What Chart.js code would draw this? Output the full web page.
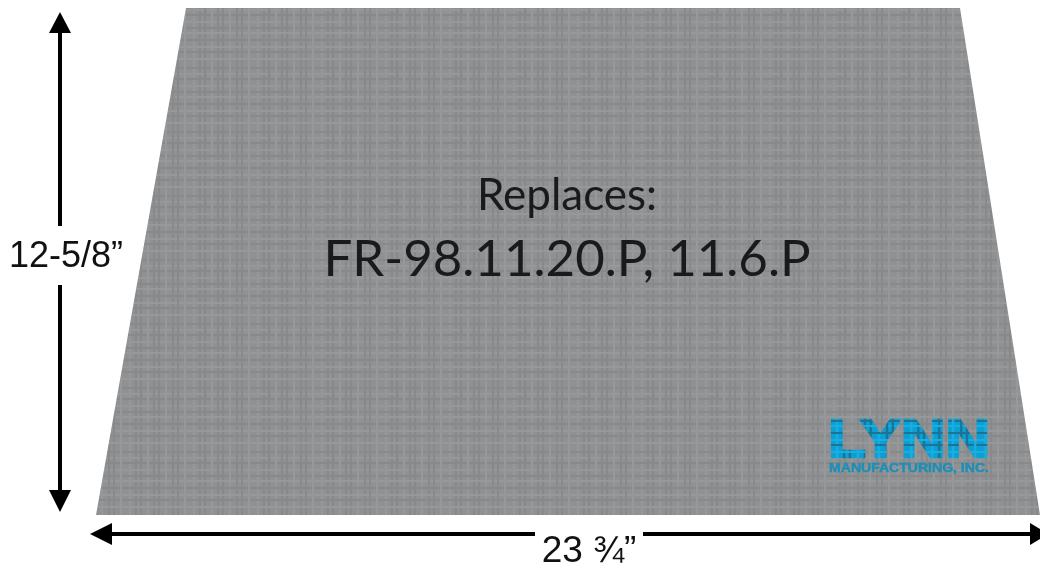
<!DOCTYPE html>
<html>
<head>
<meta charset="utf-8">
<title>Baffle board</title>
<script src="https://cdn.jsdelivr.net/npm/chart.js@4/dist/chart.umd.min.js"></script>
<style>
html, body { margin: 0; padding: 0; background: #fff; }
canvas { display: block; }
</style>
</head>
<body>
<canvas id="myChart" width="1040" height="566"></canvas>
<script>
// outline of the board, in picture units
var boardX = [96, 186, 960, 1040];
var boardY = [515, 8, 8, 515];

// dimension arrows
var heightLineTopX = [60, 60];
var heightLineTopY = [33, 226];
var heightLineBottomX = [60, 60];
var heightLineBottomY = [285, 490];
var widthLineLeftX = [112, 535];
var widthLineLeftY = [534, 534];
var widthLineRightX = [643, 1030];
var widthLineRightY = [534, 534];

var headUpX = [49, 60, 71];
var headUpY = [33, 12, 33];
var headDownX = [49, 60, 71];
var headDownY = [490, 512, 490];
// the side heads are two halves, each filled against the arrow's centre line
var headLeftX = [90, 112];
var headLeftUpperY = [534, 523];
var headLeftLowerY = [534, 545];
var headRightX = [1030, 1048];
var headRightUpperY = [523, 534];
var headRightLowerY = [545, 534];

var heightLabel = '12-5/8\u201d';
var widthLabel = '23 \u00be\u201d';
var replacesTitle = 'Replaces:';
var replacesParts = 'FR-98.11.20.P, 11.6.P';
var logoName = 'LYNN';
var logoSub = 'MANUFACTURING, INC.';

function points(xs, ys) {
    return xs.map(function (x, i) { return { x: x, y: ys[i] }; });
}

// Woven look of the board: soft threads with uneven spacing.
function weavePattern(base, light, dark, blur) {
    var tile = document.createElement('canvas');
    tile.width = 64;
    tile.height = 64;
    var c = tile.getContext('2d');
    c.fillStyle = base;
    c.fillRect(0, 0, 64, 64);
    c.filter = 'blur(' + blur + 'px)';
    var steps = [1, 7, 12, 19, 25, 30, 37, 44, 49, 56];
    steps.forEach(function (s, i) {
        c.fillStyle = i % 3 == 0 ? light : dark;
        c.fillRect(s, -4, 2, 72);
        c.fillStyle = i % 2 == 0 ? dark : light;
        c.fillRect(-4, s + 2, 72, 2);
    });
    return document.createElement('canvas').getContext('2d').createPattern(tile, 'repeat');
}

function arrowLine(xs, ys) {
    return { data: points(xs, ys), showLine: true, borderColor: '#000', borderWidth: 4, pointRadius: 0, fill: false, tension: 0 };
}

function arrowHead(xs, ys, value) {
    return {
        data: points(xs, ys), showLine: true, borderColor: '#000', borderWidth: 0, pointRadius: 0,
        backgroundColor: '#000', fill: { value: value }, tension: 0
    };
}

var logoFill = weavePattern('#0e9fd2', '#17aee2', '#1c7396', 0.5);

// Texts go through the scales so they stay in the same units as the marks.
var labelPlugin = {
    id: 'labels',
    afterDatasetsDraw: function (chart) {
        var ctx = chart.ctx, sx = chart.scales.x, sy = chart.scales.y;
        function text(str, x, y, font, color, stretch, stroke) {
            ctx.save();
            ctx.translate(sx.getPixelForValue(x), sy.getPixelForValue(y));
            ctx.scale(stretch || 1, 1);
            ctx.font = font;
            ctx.fillStyle = color;
            ctx.textAlign = 'center';
            ctx.textBaseline = 'alphabetic';
            if (stroke) {
                ctx.strokeStyle = color;
                ctx.lineWidth = stroke;
                ctx.lineJoin = 'miter';
                ctx.strokeText(str, 0, 0);
            }
            ctx.fillText(str, 0, 0);
            ctx.restore();
        }
        text(heightLabel, 66, 267, '36px "Liberation Sans"', '#111');
        text(widthLabel, 589, 562, '37px "Liberation Sans"', '#111');
        text(replacesTitle, 567, 210, '44px Lato', '#181a1d');
        text(replacesParts, 567, 276, '51px Lato', '#181a1d');
        text(logoName, 909, 457, 'bold 53px "Liberation Sans"', logoFill, 1.16, 2.5);
        text(logoSub, 909, 472, 'bold 12px "Liberation Sans"', '#1c8fb8', 1.17, 0.4);
    }
};

var ctx = document.getElementById('myChart');
var myChart = new Chart(ctx, {
    type: 'scatter',
    data: {
        datasets: [
            {
                data: points(boardX, boardY), showLine: true, borderWidth: 0, pointRadius: 0,
                backgroundColor: weavePattern('#8f9192', '#96989a', '#88898a', 0.7), fill: { value: 515 }, tension: 0
            },
            arrowLine(heightLineTopX, heightLineTopY),
            arrowLine(heightLineBottomX, heightLineBottomY),
            arrowLine(widthLineLeftX, widthLineLeftY),
            arrowLine(widthLineRightX, widthLineRightY),
            arrowHead(headUpX, headUpY, 33),
            arrowHead(headDownX, headDownY, 490),
            arrowHead(headLeftX, headLeftUpperY, 534),
            arrowHead(headLeftX, headLeftLowerY, 534),
            arrowHead(headRightX, headRightUpperY, 534),
            arrowHead(headRightX, headRightLowerY, 534)
        ]
    },
    options: {
        responsive: false,
        animation: false,
        layout: { padding: 0 },
        scales: {
            x: { type: 'linear', min: 0, max: 1040, display: false },
            y: { type: 'linear', min: 0, max: 566, reverse: true, display: false }
        },
        plugins: {
            legend: { display: false },
            tooltip: { enabled: false }
        }
    },
    plugins: [labelPlugin]
});
</script>
</body>
</html>
